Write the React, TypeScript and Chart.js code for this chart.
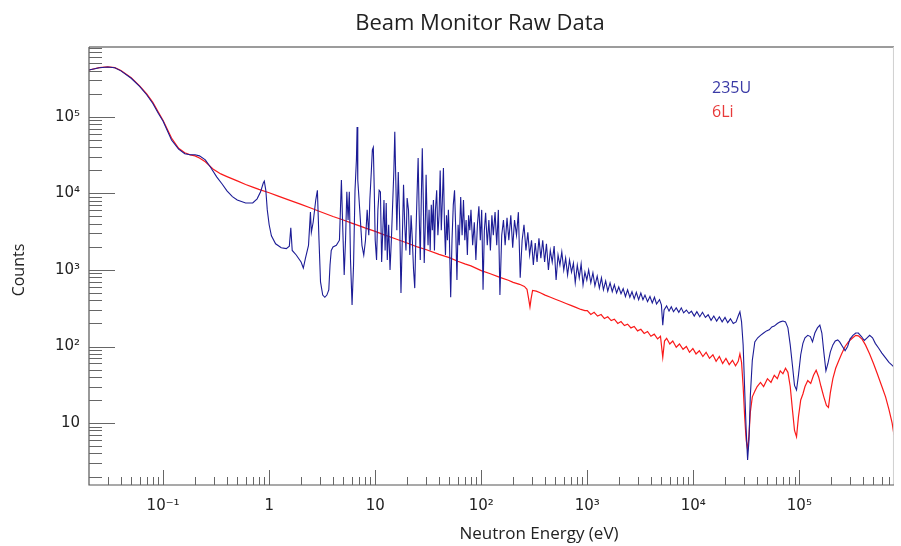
import React, { useEffect, useRef } from "react";
import { Chart, registerables } from "chart.js";

Chart.register(...registerables);

// ---- axis ranges and tick labels ----
const xRange = [0.02, 7.8e5];
const yRange = [1.55, 8.2e5];
const xMajorTicks = [0.1, 1, 10, 100, 1e3, 1e4, 1e5];
const xTickLabels = ["10⁻¹", "1", "10", "10²", "10³", "10⁴", "10⁵"];
const yMajorTicks = [10, 100, 1e3, 1e4, 1e5];
const yTickLabels = ["10", "10²", "10³", "10⁴", "10⁵"];

const titleText = "Beam Monitor Raw Data";
const xTitle = "Neutron Energy (eV)";
const yTitle = "Counts";
const seriesNames = ["235U", "6Li"];

// ---- 235U monitor (blue) ----
const blueEnergy = [
  0.02, 0.025, 0.03, 0.035, 0.04, 0.05, 0.06, 0.07, 0.08, 0.09,
  0.1, 0.12, 0.14, 0.16, 0.18, 0.2, 0.22, 0.25, 0.28, 0.32,
  0.36, 0.4, 0.45, 0.5, 0.6, 0.7, 0.77, 0.83, 0.88, 0.9,
  0.93, 0.96, 1.0, 1.05, 1.15, 1.3, 1.45, 1.55, 1.6, 1.65,
  1.8, 2.0, 2.1, 2.2, 2.35, 2.45, 2.5, 2.6, 2.75, 2.85,
  2.95, 3.05, 3.2, 3.35, 3.5, 3.65, 3.75, 3.85, 4.0, 4.3,
  4.6, 4.8, 4.95, 5.1, 5.25, 5.4, 5.55, 5.7, 5.85, 6.05,
  6.25, 6.45, 6.65, 6.75, 6.85, 7.0, 7.2, 7.5, 7.8, 8.1,
  8.4, 8.7, 8.9, 9.2, 9.4, 9.6, 9.8, 10.0, 10.3, 10.6,
  10.9, 11.2, 11.5, 11.8, 12.1, 12.4, 12.7, 13.0, 13.4, 13.8,
  14.2, 14.6, 15.0, 15.3, 15.6, 16.0, 16.5, 17.0, 17.5, 18.0,
  18.5, 19.0, 19.5, 20.0, 20.6, 21.2, 21.8, 22.4, 23.0, 23.6,
  24.2, 24.8, 25.4, 26.0, 26.6, 27.2, 27.8, 28.4, 29.0, 29.6,
  30.2, 30.8, 31.5, 32.2, 33.0, 33.8, 34.6, 35.4, 36.2, 37.0,
  38, 39, 40, 41, 42, 43, 44, 45, 46, 47,
  48, 49, 50, 51.5, 53, 54.5, 56, 57.5, 59, 60.5,
  62, 64, 66, 68, 70, 72, 74, 76, 78, 80,
  83, 86, 89, 92, 95, 98, 101, 104, 107, 110,
  114, 118, 122, 126, 130, 135, 140, 145, 150, 156,
  162, 168, 175, 182, 190, 198, 206, 215, 224, 233,
  243, 253, 264, 275, 286, 298, 310, 323, 336, 350,
  365, 380, 396, 412, 430, 448, 467, 487, 508, 530,
  552, 575, 600, 625, 652, 680, 710, 740, 770, 805,
  840, 875, 912, 950, 990, 1030, 1080, 1130, 1180, 1240,
  1300, 1360, 1420, 1490, 1560, 1640, 1720, 1800, 1890, 1980,
  2080, 2180, 2290, 2400, 2520, 2640, 2770, 2900, 3050, 3200,
  3350, 3500, 3700, 3900, 4100, 4300, 4500, 4800, 5000, 5150,
  5300, 5600, 5900, 6200, 6500, 6900, 7300, 7700, 8100, 8600,
  9100, 9600, 10200, 10800, 11500, 12200, 13000, 13800, 14700, 15600,
  16600, 17600, 18700, 19900, 21100, 22400, 23800, 25300, 26500, 27500,
  28500, 29500, 30500, 31500, 32500, 33500, 34500, 36000, 38000, 40500,
  43000, 46000, 49000, 52000, 55000, 58000, 62000, 66000, 70000, 74000,
  78000, 82000, 86000, 90000, 94000, 98000, 103000, 108000, 113000, 120000,
  127000, 133000, 140000, 148000, 156000, 163000, 170000, 178000, 186000, 196000,
  207000, 218000, 230000, 240000, 255000, 270000, 285000, 300000, 320000, 340000,
  360000, 385000, 410000, 435000, 460000, 490000, 520000, 560000, 600000, 650000,
  700000, 760000, 780000,
];
const blueCounts = [
  4.1e5, 4.4e5, 4.5e5, 4.4e5, 4.0e5, 3.2e5, 2.5e5, 1.95e5, 1.5e5, 1.12e5,
  8.8e4, 5.0e4, 3.8e4, 3.3e4, 3.2e4, 3.2e4, 3.1e4, 2.75e4, 2.2e4, 1.65e4,
  1.33e4, 1.08e4, 9100, 8200, 7500, 7500, 8500, 1.05e4, 1.37e4, 1.45e4,
  1.1e4, 6100, 3900, 2800, 2200, 1950, 1900, 2050, 3550, 1800,
  1570, 1270, 1060, 1430, 2100, 5700, 3100, 4200, 8200, 1.1e4,
  2500, 700, 470, 440, 470, 550, 1160, 1800, 2000, 2100,
  2450, 1.5e4, 3300, 860, 2450, 1.05e4, 4500, 1.05e4, 1350, 350,
  1160, 1.1e4, 2.75e4, 7.4e4, 1.5e4, 9500, 5200, 2100, 1570, 2450,
  6100, 2850, 8200, 2.0e4, 3.7e4, 4.0e4, 1.1e4, 2450, 1350, 6100,
  1.1e4, 1.05e4, 1270, 3300, 8200, 1800, 7500, 1350, 3900, 1000,
  2450, 7100, 2.0e4, 6.4e4, 1.75e4, 3300, 1.9e4, 4500, 500, 2450,
  1.3e4, 3900, 1800, 8700, 6100, 1570, 5200, 2450, 1000, 580,
  2850, 9500, 2.9e4, 5200, 1350, 8200, 3.9e4, 8200, 1230, 3300,
  1.75e4, 5200, 2100, 6100, 1800, 7100, 3300, 8200, 1800, 6100,
  1.1e4, 2850, 5200, 2.0e4, 3300, 8200, 2.15e4, 3900, 1570, 5200,
  2450, 6100, 2850, 440, 2450, 7100, 1.1e4, 3300, 740, 3900,
  2100, 9000, 2850, 8200, 2450, 4500, 1570, 5200, 3300, 6100,
  2100, 4200, 1350, 3900, 6800, 2450, 6100, 550, 3300, 5600,
  2100, 4500, 1800, 5200, 2850, 5700, 2100, 6100, 470, 2850,
  4500, 2100, 4800, 2450, 5200, 1950, 4500, 2850, 5700, 790,
  2450, 3900, 1800, 3100, 1570, 2450, 1160, 2250, 1270, 2600,
  1430, 2450, 1270, 2200, 1000, 1800, 1270, 2050, 740, 1570,
  1160, 1720, 1000, 1430, 860, 1350, 940, 1230, 680, 1160,
  790, 1200, 640, 940, 740, 1000, 680, 920, 620, 830,
  580, 790, 550, 720, 530, 680, 520, 640, 500, 600,
  490, 570, 450, 550, 440, 520, 420, 510, 410, 500,
  410, 470, 385, 450, 370, 440, 360, 410, 350, 190,
  300, 340, 290, 330, 285, 320, 280, 320, 275, 300,
  270, 290, 250, 285, 245, 280, 240, 260, 220, 250,
  215, 245, 210, 240, 205, 230, 200, 210, 250, 285,
  210, 105, 27, 8.1, 3.3, 6.0, 23, 66, 115, 130,
  140, 150, 160, 165, 180, 185, 200, 210, 215, 210,
  175, 105, 57, 31, 27, 42, 78, 110, 130, 140,
  135, 115, 150, 175, 190, 150, 85, 48, 60, 85,
  105, 118, 122, 115, 100, 88, 100, 125, 140, 150,
  150, 135, 120, 130, 140, 130, 110, 95, 82, 71,
  62, 56, 54,
];

// ---- 6Li monitor (red) ----
const redEnergy = [
  0.02, 0.025, 0.03, 0.035, 0.04, 0.05, 0.06, 0.07, 0.08, 0.09,
  0.1, 0.12, 0.14, 0.16, 0.18, 0.2, 0.22, 0.25, 0.3, 0.35,
  0.4, 0.5, 0.6, 0.7, 0.8, 1.0, 1.2, 1.5, 2.0, 2.5,
  3, 4, 5, 6, 7, 8, 10, 12, 15, 20,
  25, 30, 40, 50, 60, 70, 80, 100, 120, 150,
  180, 200, 230, 255, 270, 280, 288, 295, 305, 330,
  360, 400, 450, 500, 560, 630, 700, 780, 870, 950,
  1000, 1080, 1160, 1250, 1350, 1450, 1560, 1680, 1800, 1940,
  2080, 2240, 2400, 2580, 2770, 2980, 3200, 3440, 3700, 3980,
  4280, 4600, 4900, 5150, 5350, 5600, 6000, 6400, 6900, 7400,
  8000, 8600, 9200, 9900, 10600, 11400, 12300, 13200, 14200, 15300,
  16400, 17600, 18900, 20300, 21800, 23400, 25000, 26500, 27500, 28500,
  29500, 30500, 31500, 32500, 33500, 34500, 36000, 38000, 40000, 43000,
  46000, 50000, 54000, 58000, 62000, 66000, 70000, 74000, 78000, 82000,
  86000, 90000, 94000, 98000, 103000, 108000, 113000, 120000, 128000, 136000,
  144000, 152000, 160000, 170000, 180000, 188000, 196000, 207000, 220000, 235000,
  250000, 270000, 290000, 315000, 340000, 360000, 390000, 420000, 460000, 500000,
  540000, 600000, 650000, 700000, 750000, 780000,
];
const redCounts = [
  4.1e5, 4.4e5, 4.5e5, 4.4e5, 4.05e5, 3.25e5, 2.55e5, 2.0e5, 1.55e5, 1.16e5,
  9.0e4, 5.3e4, 3.9e4, 3.4e4, 3.2e4, 3.1e4, 2.9e4, 2.6e4, 2.05e4, 1.8e4,
  1.66e4, 1.46e4, 1.31e4, 1.21e4, 1.13e4, 1.02e4, 9300, 8300, 7200, 6400,
  5800, 5000, 4500, 4100, 3800, 3550, 3200, 2900, 2600, 2250,
  2000, 1850, 1600, 1450, 1300, 1200, 1130, 980, 900, 800,
  735, 690, 650, 610, 560, 420, 330, 420, 540, 530,
  505, 470, 440, 415, 390, 365, 345, 325, 305, 295,
  295, 262, 280, 250, 262, 232, 245, 218, 228, 200,
  212, 188, 196, 175, 183, 160, 168, 148, 157, 136,
  145, 126, 136, 72, 118, 128, 108, 118, 98, 108,
  92, 100, 84, 94, 80, 88, 74, 84, 70, 78,
  64, 74, 60, 70, 58, 66, 56, 64, 80, 62,
  30, 12, 6, 4.5, 7, 14, 22, 26, 30, 34,
  30, 38, 34, 42, 38, 48, 44, 52, 46, 30,
  15, 8, 6.6, 12, 20, 24, 30, 36, 33, 42,
  49, 40, 30, 22, 17, 16, 25, 38, 52, 65,
  80, 100, 115, 128, 140, 138, 125, 105, 80, 60,
  45, 30, 22, 15, 10, 7,
];

function logTickValues(min: number, max: number): number[] {
  const out: number[] = [];
  const e0 = Math.floor(Math.log10(min));
  const e1 = Math.ceil(Math.log10(max));
  for (let e = e0; e <= e1; e++) {
    for (let m = 1; m <= 9; m++) {
      const v = m * Math.pow(10, e);
      if (v >= min * 0.999 && v <= max * 1.001) out.push(v);
    }
  }
  return out;
}

function isMajor(v: number): boolean {
  const lg = Math.log10(v);
  return Math.abs(lg - Math.round(lg)) < 1e-6;
}

function labelFor(v: number, majors: number[], labels: string[]): string {
  const i = majors.findIndex((t) => Math.abs(Math.log10(t) - Math.log10(v)) < 1e-6);
  return i >= 0 ? labels[i] : "";
}

const decorPlugin = {
  id: "decor",
  afterDraw(chart: any) {
    const ctx: CanvasRenderingContext2D = chart.ctx;
    const a = chart.chartArea;
    const xs = chart.scales.x;
    const ys = chart.scales.y;
    ctx.save();
    // frame
    ctx.strokeStyle = "#9c9c9c";
    ctx.lineWidth = 2;
    ctx.beginPath();
    ctx.moveTo(a.left, a.top);
    ctx.lineTo(a.right, a.top);
    ctx.stroke();
    ctx.strokeStyle = "#d0d0d0";
    ctx.lineWidth = 1;
    ctx.beginPath();
    ctx.moveTo(a.right - 0.5, a.top);
    ctx.lineTo(a.right - 0.5, a.bottom);
    ctx.stroke();
    ctx.strokeStyle = "#555555";
    ctx.lineWidth = 1.2;
    ctx.beginPath();
    ctx.moveTo(a.left, a.top);
    ctx.lineTo(a.left, a.bottom);
    ctx.lineTo(a.right, a.bottom);
    ctx.stroke();
    // inward ticks
    ctx.lineWidth = 1;
    ctx.strokeStyle = "#666666";
    for (const t of xs.ticks) {
      const px = Math.round(xs.getPixelForValue(t.value)) + 0.5;
      if (px < a.left + 1 || px > a.right - 1) continue;
      const len = isMajor(t.value) ? 15 : 8;
      ctx.beginPath();
      ctx.moveTo(px, a.bottom);
      ctx.lineTo(px, a.bottom - len);
      ctx.stroke();
    }
    for (const t of ys.ticks) {
      const py = Math.round(ys.getPixelForValue(t.value)) + 0.5;
      if (py < a.top + 1 || py > a.bottom - 1) continue;
      const len = isMajor(t.value) ? 26 : 13;
      ctx.beginPath();
      ctx.moveTo(a.left, py);
      ctx.lineTo(a.left + len, py);
      ctx.stroke();
    }
    // texts
    ctx.fillStyle = "#222222";
    ctx.textAlign = "center";
    ctx.textBaseline = "middle";
    ctx.font = "22px 'Open Sans'";
    ctx.fillText(titleText, 480, 24);
    ctx.font = "17px 'Open Sans'";
    ctx.fillText(xTitle, 539, 534);
    ctx.save();
    ctx.translate(19, 270);
    ctx.rotate(-Math.PI / 2);
    ctx.font = "16px 'Open Sans'";
    ctx.fillText(yTitle, 0, 0);
    ctx.restore();
    // legend
    ctx.textAlign = "left";
    ctx.font = "16px 'Open Sans'";
    ctx.fillStyle = "#3a3aa6";
    ctx.fillText(seriesNames[0], 712, 88);
    ctx.fillStyle = "#e83a3a";
    ctx.fillText(seriesNames[1], 712, 112);
    ctx.restore();
  },
};

export default function App() {
  const canvasRef = useRef<HTMLCanvasElement | null>(null);

  useEffect(() => {
    const canvas = canvasRef.current;
    if (!canvas) return;
    const blueData = blueEnergy.map((e, i) => ({ x: e, y: blueCounts[i] }));
    const redData = redEnergy.map((e, i) => ({ x: e, y: redCounts[i] }));
    const xTicksAll = logTickValues(xRange[0], xRange[1]);
    const yTicksAll = logTickValues(yRange[0], yRange[1]);
    const tickFont = { family: "'DejaVu Sans'", size: 15 };

    const chart = new Chart(canvas, {
      type: "line",
      data: {
        datasets: [
          {
            label: seriesNames[0],
            data: blueData,
            borderColor: "rgb(28,28,150)",
            borderWidth: 1.1,
            pointRadius: 0,
            tension: 0,
            fill: false,
          },
          {
            label: seriesNames[1],
            data: redData,
            borderColor: "rgb(250,25,25)",
            borderWidth: 1.2,
            pointRadius: 0,
            tension: 0,
            fill: false,
          },
        ],
      },
      options: {
        responsive: false,
        animation: false,
        devicePixelRatio: 1,
        events: [],
        layout: { padding: { top: 47, right: 3, left: 0, bottom: 0 } },
        plugins: {
          legend: { display: false },
          title: { display: false },
          tooltip: { enabled: false },
        },
        scales: {
          x: {
            type: "logarithmic",
            min: xRange[0],
            max: xRange[1],
            afterBuildTicks: (s: any) => {
              s.ticks = xTicksAll.map((v) => ({ value: v }));
            },
            afterFit: (s: any) => {
              s.height = 61;
            },
            grid: { display: false, drawTicks: false, tickLength: 0 },
            border: { display: false },
            ticks: {
              autoSkip: false,
              maxRotation: 0,
              minRotation: 0,
              padding: 12,
              color: "#222222",
              font: tickFont,
              callback: (v: any) => labelFor(Number(v), xMajorTicks, xTickLabels),
            },
          },
          y: {
            type: "logarithmic",
            min: yRange[0],
            max: yRange[1],
            afterBuildTicks: (s: any) => {
              s.ticks = yTicksAll.map((v) => ({ value: v }));
            },
            afterFit: (s: any) => {
              s.width = 89;
            },
            grid: { display: false, drawTicks: false, tickLength: 0 },
            border: { display: false },
            ticks: {
              autoSkip: false,
              padding: 9,
              color: "#222222",
              font: tickFont,
              callback: (v: any) => labelFor(Number(v), yMajorTicks, yTickLabels),
            },
          },
        },
      },
      plugins: [decorPlugin],
    });
    return () => chart.destroy();
  }, []);

  return (
    <div style={{ position: "absolute", left: 0, top: 0, width: 901, height: 546, background: "#ffffff" }}>
      <canvas ref={canvasRef} width={901} height={546} style={{ display: "block" }} />
    </div>
  );
}
